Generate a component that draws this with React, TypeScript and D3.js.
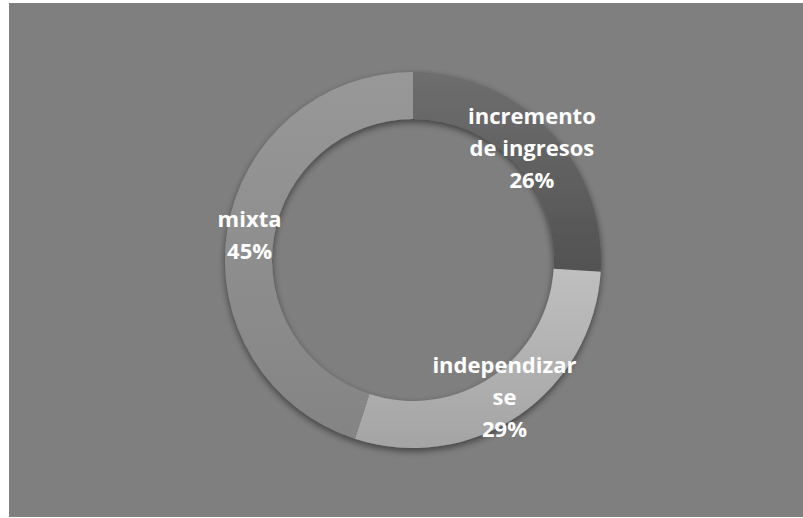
import React from 'react';
import * as d3 from 'd3';

// slice data, clockwise from 12 o'clock
const categories = ['incremento de ingresos', 'independizarse', 'mixta'];
const shares = [26, 29, 45];
const labelLines = [['incremento', 'de ingresos'], ['independizar', 'se'], ['mixta']];
const percentLabels = ['26%', '29%', '45%'];
const topShades = ['#6e6e6e', '#bfbfbf', '#989898'];
const bottomShades = ['#525252', '#a4a4a4', '#848484'];

const W = 803;
const H = 518;

const App: React.FC = () => {
  const cx = 413;
  const cy = 260;
  const outerR = 188;
  const innerR = 141;
  const lineH = 32;

  const pie = d3.pie<number>().value(d => d).sort(null);
  const arcs = pie(shares);
  const arcGen = d3.arc<d3.PieArcDatum<number>>().innerRadius(innerR).outerRadius(outerR);

  return (
    <svg width={W} height={H} style={{ position: 'absolute', left: 0, top: 0 }}
      fontFamily="'Open Sans', sans-serif">
      <defs>
        <filter id="ringShadow" x="-20%" y="-20%" width="140%" height="140%">
          <feGaussianBlur in="SourceAlpha" stdDeviation="3.5" />
          <feOffset dx="0" dy="3" result="blur" />
          <feFlood floodColor="#000" floodOpacity="0.5" />
          <feComposite in2="blur" operator="in" />
          <feMerge>
            <feMergeNode />
            <feMergeNode in="SourceGraphic" />
          </feMerge>
        </filter>
        {categories.map((c, i) => (
          <linearGradient key={c} id={`shade${i}`} x1="0" y1="0" x2="0" y2="1">
            <stop offset="0%" stopColor={topShades[i]} />
            <stop offset="100%" stopColor={bottomShades[i]} />
          </linearGradient>
        ))}
      </defs>
      <rect x={9} y={3} width={W - 9} height={H - 4} fill="#7f7f7f" />
      <g transform={`translate(${cx},${cy})`}>
        <g filter="url(#ringShadow)">
          {arcs.map((a, i) => (
            <path key={categories[i]} d={arcGen(a) || ''} fill={`url(#shade${i})`} />
          ))}
        </g>
        {arcs.map((a, i) => {
          const [lx, ly] = arcGen.centroid(a);
          const lines = [...labelLines[i], percentLabels[i]];
          const n = lines.length;
          return (
            <text key={categories[i]} textAnchor="middle" fill="#fff" fontWeight="bold" fontSize={22}>
              {lines.map((t, j) => (
                <tspan key={j} x={lx - 1} y={ly + (j - (n - 1) / 2) * lineH + 9}>{t}</tspan>
              ))}
            </text>
          );
        })}
      </g>
    </svg>
  );
};

export default App;
